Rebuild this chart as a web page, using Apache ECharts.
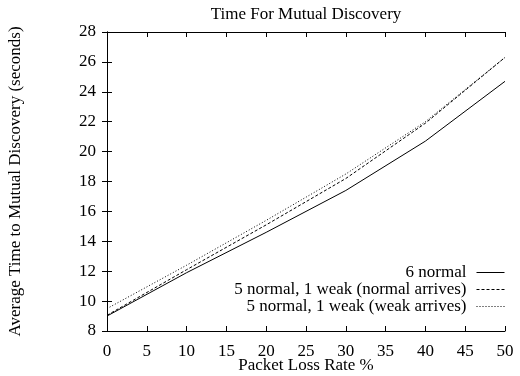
<!DOCTYPE html>
<html>
<head>
<meta charset="utf-8">
<script src="https://cdn.jsdelivr.net/npm/echarts@6/dist/echarts.min.js"></script>
<style>
  html, body { margin: 0; padding: 0; background: #fff; }
  #chart { width: 520px; height: 376px; }
</style>
</head>
<body>
<div id="chart"></div>
<script>
// Packet loss rate (%) on the x axis
const lossRates = [0, 10, 20, 30, 40, 50];

// Average time to mutual discovery (seconds)
const sixNormal = [9.0, 11.9, 14.6, 17.4, 20.7, 24.7];
const weakNormalArrives = [9.05, 12.1, 15.1, 18.2, 21.9, 26.3];
const weakWeakArrives = [9.5, 12.4, 15.4, 18.5, 22.0, 26.3];

const seriesNames = [
  '6 normal',
  '5 normal, 1 weak (normal arrives)',
  '5 normal, 1 weak (weak arrives)'
];

const FONT = 'Liberation Serif';
const FS = 17;

function pairs(xs, ys) {
  return xs.map((x, i) => [x, ys[i]]);
}

function lineSeries(name, values, dash) {
  return {
    name: name,
    type: 'line',
    data: pairs(lossRates, values),
    symbol: 'none',
    showSymbol: false,
    silent: true,
    animation: false,
    lineStyle: { color: '#000', width: 1, type: dash },
    itemStyle: { color: '#000' }
  };
}

const axisCommon = {
  axisLine: { show: true, lineStyle: { color: '#000', width: 1 } },
  axisTick: { show: true, inside: true, length: 5, lineStyle: { color: '#000', width: 1 } },
  splitLine: { show: false }
};

const chart = echarts.init(document.getElementById('chart'), null, { renderer: 'canvas' });

chart.setOption({
  backgroundColor: '#fff',
  animation: false,
  title: {
    text: 'Time For Mutual Discovery',
    left: 306,
    top: 6,
    padding: 0,
    textAlign: 'center',
    textStyle: { fontFamily: FONT, fontSize: FS, fontWeight: 'normal', color: '#000' }
  },
  grid: { left: 107, right: 15, top: 32, bottom: 45, containLabel: false, outerBoundsMode: 'none' },
  legend: {
    data: seriesNames,
    orient: 'vertical',
    align: 'right',
    right: 15,
    top: 264,
    itemWidth: 28,
    itemHeight: 10,
    itemGap: 0,
    padding: 0,
    selectedMode: false,
    itemStyle: { color: 'rgba(0,0,0,0)', borderWidth: 0, opacity: 0 },
    lineStyle: { width: 1, color: '#000' },
    textStyle: { fontFamily: FONT, fontSize: FS, color: '#000', lineHeight: 17, padding: [0, 5, 0, 0] }
  },
  xAxis: [
    Object.assign({}, axisCommon, {
      type: 'value',
      position: 'bottom',
      min: 0, max: 50, interval: 5,
      name: 'Packet Loss Rate %',
      nameLocation: 'middle',
      nameGap: 26,
      nameMoveOverlap: false,
      nameTextStyle: { fontFamily: FONT, fontSize: FS, color: '#000' },
      axisLabel: { fontFamily: FONT, fontSize: FS, color: '#000', margin: 12 }
    }),
    Object.assign({}, axisCommon, {
      type: 'value',
      position: 'top',
      min: 0, max: 50, interval: 5,
      axisLabel: { show: false }
    })
  ],
  yAxis: [
    Object.assign({}, axisCommon, {
      type: 'value',
      position: 'left',
      min: 8, max: 28, interval: 2,
      name: 'Average Time to Mutual Discovery (seconds)',
      nameLocation: 'middle',
      nameGap: 83,
      nameTextStyle: { fontFamily: FONT, fontSize: FS, color: '#000' },
      axisLabel: { fontFamily: FONT, fontSize: FS, color: '#000', margin: 11 }
    }),
    Object.assign({}, axisCommon, {
      type: 'value',
      position: 'right',
      min: 8, max: 28, interval: 2,
      axisLabel: { show: false }
    })
  ],
  series: [
    lineSeries(seriesNames[0], sixNormal, 'solid'),
    lineSeries(seriesNames[1], weakNormalArrives, [3, 2]),
    lineSeries(seriesNames[2], weakWeakArrives, [1, 2])
  ]
});
</script>
</body>
</html>
